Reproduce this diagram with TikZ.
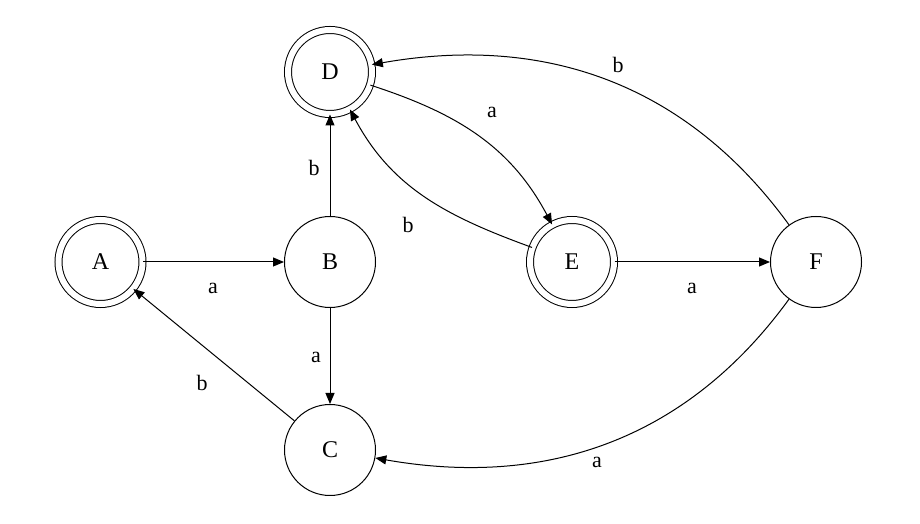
\documentclass[tikz,border=0pt]{standalone}
\usepackage{fontspec}
\setmainfont{Liberation Serif}
\usetikzlibrary{arrows.meta}
\begin{document}
\begin{tikzpicture}[x=1pt,y=1pt,
  st/.style={circle,draw,line width=1pt,minimum size=91pt,inner sep=0pt,font=\fontsize{24}{28}\selectfont},
  acc/.style={st,minimum size=84pt,double,double distance=6pt},
  edge/.style={line width=1pt,-{Triangle[length=11pt,width=9pt]}},
  lab/.style={font=\fontsize{22}{26}\selectfont,inner sep=0pt}]
\useasboundingbox (0,0) rectangle (920,524);
\node[acc] (A) at (100.5,262) {A};
\node[st]  (B) at (330,262) {B};
\node[st]  (C) at (330,74) {C};
\node[acc] (D) at (330,452) {D};
\node[acc] (E) at (572,262) {E};
\node[st]  (F) at (816,262) {F};
\draw[edge] (A) -- (B);
\draw[edge] (B) -- (D);
\draw[edge] (B) -- (C);
\draw[edge] (C) -- (A);
\draw[edge] (D) to[out=-18,in=118] (E);
\draw[edge] (E) to[out=160,in=-62] (D);
\draw[edge] (E) -- (F);
\draw[edge] (F) to[out=126,in=10] (D);
\draw[edge] (F) to[out=-126,in=-10] (C);
\node[lab] (l1) at (213,236) {a};
\node[lab] (l2) at (314,356) {b};
\node[lab] (l3) at (316,167) {a};
\node[lab] (l4) at (202,141) {b};
\node[lab] (l5) at (492,412) {a};
\node[lab] (l6) at (408,299) {b};
\node[lab] (l7) at (692,236) {a};
\node[lab] (l8) at (618,459) {b};
\node[lab] (l9) at (597,62) {a};
\end{tikzpicture}
\end{document}
